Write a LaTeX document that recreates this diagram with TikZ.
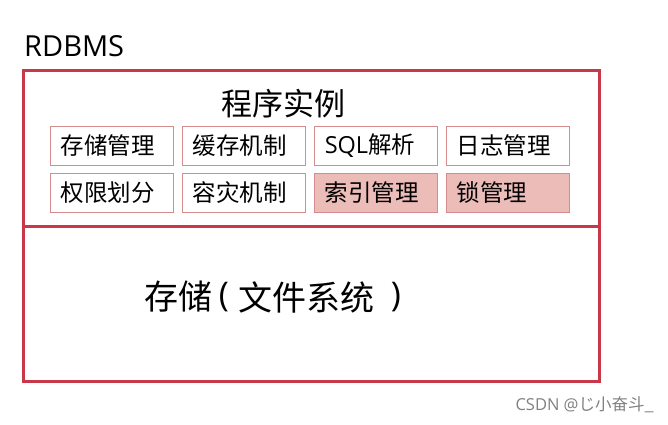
\documentclass[tikz,border=0pt]{standalone}
\usepackage{fontspec}
\setmainfont{Open Sans}
\newfontfamily\cjk{Noto Sans CJK SC}
\definecolor{rd}{RGB}{200,56,72}
\definecolor{bd}{RGB}{214,140,140}
\definecolor{fl}{RGB}{236,188,184}
\begin{document}
\begin{tikzpicture}[x=1pt,y=-1pt,
  mod/.style={draw=bd,line width=0.9pt,minimum width=123pt,minimum height=39pt,inner sep=0pt},
  modt/.style={anchor=west,font=\cjk\fontsize{23.5}{26}\selectfont,inner sep=0pt},
  big/.style={inner sep=0pt,font=\cjk\fontsize{34}{38}\selectfont},
  hot/.style={mod,fill=fl}]
\useasboundingbox (0,0) rectangle (668,424);
\node[anchor=base west,inner sep=0pt,font=\fontsize{29}{32}\selectfont] (title) at (24,56) {RDBMS};
\node[draw=rd,line width=2.6pt,minimum width=576pt,minimum height=156pt,anchor=north west,inner sep=0pt] (inst) at (22,69) {};
\node[draw=rd,line width=2.6pt,minimum width=576pt,minimum height=155pt,anchor=north west,inner sep=0pt] (stor) at (22,225) {};
\node[font=\cjk\fontsize{31}{34}\selectfont,inner sep=0pt] (instt) at (283,104) {程序实例};
\node[mod] (b1) at (111.5,145.5) {};
\node[mod] (b2) at (243.5,145.5) {};
\node[mod] (b3) at (375.5,145.5) {};
\node[mod] (b4) at (507.5,145.5) {};
\node[mod] (b5) at (111.5,193) {};
\node[mod] (b6) at (243.5,193) {};
\node[hot] (b7) at (375.5,193) {};
\node[hot] (b8) at (507.5,193) {};
\node[modt] at ([xshift=11pt]b1.west) {存储管理};
\node[modt] at ([xshift=11pt]b2.west) {缓存机制};
\node[modt] at ([xshift=11pt]b3.west) {\fontspec{Open Sans}SQL\cjk 解析};
\node[modt] at ([xshift=11pt]b4.west) {日志管理};
\node[modt] at ([xshift=11pt]b5.west) {权限划分};
\node[modt] at ([xshift=11pt]b6.west) {容灾机制};
\node[modt] at ([xshift=11pt]b7.west) {索引管理};
\node[modt] at ([xshift=11pt]b8.west) {锁管理};
\node[big,anchor=west] (st1) at (144,297) {存储};
\node[big,font=\fontsize{34}{38}\selectfont] (lp) at (224,297) {(};
\node[big,anchor=west] (st2) at (238,297) {文件系统};
\node[big,font=\fontsize{34}{38}\selectfont] (rp) at (396,297) {)};
\node[anchor=east,inner sep=0pt,text=black!50,font=\cjk\fontsize{16.5}{18}\selectfont] (wm) at (654,405) {\fontspec{Open Sans}CSDN @\cjk じ小奋斗\_};
\end{tikzpicture}
\end{document}
